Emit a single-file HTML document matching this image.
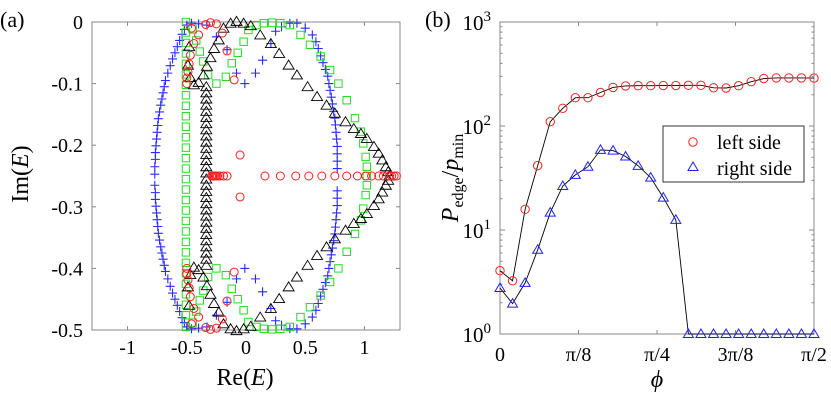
<!DOCTYPE html>
<html><head><meta charset="utf-8"><style>
body{margin:0;background:#fff}
svg{display:block}
svg text{font-family:"Liberation Serif","Times New Roman","DejaVu Serif",serif}
</style></head><body>
<svg id="fig" width="831" height="406" viewBox="0 0 831 406" font-family="Liberation Serif, serif"></svg>
<script>
// ---------- Panel (a) data (Re, Im) ----------
const redRe=[-0.29,-0.28,-0.27,-0.26,-0.25,-0.24,-0.22,-0.19,-0.16,0.16,0.29,0.42,0.53,0.64,0.75,0.85,0.94,1.01,1.06,1.12,1.16,1.21,1.23,1.25,1.27,-0.05,-0.05,
 -0.10,-0.16,-0.20,-0.25,-0.30,-0.34,-0.40,-0.44,-0.47,-0.48,-0.49,-0.50,-0.50,-0.46,
 -0.10,-0.16,-0.20,-0.25,-0.30,-0.34,-0.40,-0.44,-0.47,-0.48,-0.49,-0.50,-0.50,-0.46];
const redIm=[-0.25,-0.25,-0.25,-0.25,-0.25,-0.25,-0.25,-0.25,-0.25,-0.25,-0.25,-0.25,-0.25,-0.25,-0.25,-0.25,-0.25,-0.25,-0.25,-0.25,-0.25,-0.25,-0.25,-0.25,-0.25,-0.216,-0.284,
 -0.094,-0.047,-0.018,-0.003,-0.001,-0.004,-0.021,-0.035,-0.054,-0.068,-0.081,-0.091,-0.100,-0.010,
 -0.406,-0.453,-0.482,-0.497,-0.499,-0.496,-0.479,-0.465,-0.446,-0.432,-0.419,-0.409,-0.400,-0.490];
const triRe=[-0.13,-0.08,-0.02,0.04,0.12,0.21,0.28,0.36,0.43,0.52,0.60,0.68,0.75,0.84,0.91,0.97,1.02,1.08,1.12,1.15,1.18,1.20,1.21,
 -0.19,-0.23,-0.27,-0.30,-0.33,-0.36,-0.40,-0.44,-0.47,-0.49,-0.48,
 -0.13,-0.08,-0.02,0.04,0.12,0.21,0.28,0.36,0.43,0.52,0.60,0.68,0.75,0.84,0.91,0.97,1.02,1.08,1.12,1.15,1.18,1.20,
 -0.19,-0.23,-0.27,-0.30,-0.33,-0.36,-0.40,-0.44,-0.47,-0.49,-0.48,
 -0.335,-0.335,-0.335,-0.335,-0.335,-0.335,-0.335,-0.335,-0.335,-0.335,-0.335,-0.335,-0.335,-0.335,-0.335,-0.335,-0.335,-0.335,-0.335,-0.335,-0.335,-0.335,-0.335,-0.335,-0.335,-0.335,-0.335,-0.335,-0.335,-0.335];
const triIm=[-0.002,0.001,-0.002,-0.006,-0.021,-0.035,-0.051,-0.070,-0.086,-0.105,-0.121,-0.135,-0.148,-0.162,-0.173,-0.181,-0.189,-0.202,-0.213,-0.224,-0.235,-0.243,-0.250,
 -0.010,-0.029,-0.043,-0.058,-0.072,-0.086,-0.098,-0.102,-0.090,-0.070,-0.040,
 -0.498,-0.501,-0.498,-0.494,-0.479,-0.465,-0.449,-0.430,-0.414,-0.395,-0.379,-0.365,-0.352,-0.338,-0.327,-0.319,-0.311,-0.298,-0.287,-0.276,-0.265,-0.257,
 -0.490,-0.471,-0.457,-0.442,-0.428,-0.414,-0.402,-0.398,-0.410,-0.430,-0.460,
 -0.105,-0.115,-0.125,-0.135,-0.145,-0.155,-0.165,-0.175,-0.185,-0.195,-0.205,-0.215,-0.225,-0.235,-0.245,-0.255,-0.265,-0.275,-0.285,-0.295,-0.305,-0.315,-0.325,-0.335,-0.345,-0.355,-0.365,-0.375,-0.385,-0.395];
const sqRe=[0.09,0.15,0.22,0.29,0.37,0.46,0.54,0.63,0.71,0.78,0.85,0.92,0.97,0.99,1.01,1.02,1.02,
 0.02,-0.02,-0.07,-0.12,-0.17,-0.25,-0.32,-0.36,-0.39,-0.42,-0.45,
 0.09,0.15,0.22,0.29,0.37,0.46,0.54,0.63,0.71,0.78,0.85,0.92,0.97,0.99,1.01,1.02,
 0.02,-0.02,-0.07,-0.12,-0.17,-0.25,-0.32,-0.36,-0.39,-0.42,-0.45,
 -0.507,-0.507,-0.507,-0.507,-0.507,-0.507,-0.507,-0.507,-0.507,-0.507,-0.507,-0.507,-0.507,-0.507,-0.507,-0.507,-0.507,-0.507,-0.507,-0.507,-0.507,-0.507,-0.507,-0.507,-0.507,-0.507,-0.507,-0.507,-0.507,-0.507];
const sqIm=[-0.005,-0.002,-0.001,-0.002,-0.005,-0.021,-0.037,-0.056,-0.078,-0.100,-0.127,-0.156,-0.178,-0.197,-0.219,-0.235,-0.250,
 -0.013,-0.032,-0.050,-0.067,-0.089,-0.100,-0.086,-0.064,-0.048,-0.030,-0.012,
 -0.495,-0.498,-0.499,-0.498,-0.495,-0.479,-0.463,-0.444,-0.422,-0.400,-0.373,-0.344,-0.322,-0.303,-0.281,-0.265,
 -0.487,-0.468,-0.450,-0.433,-0.411,-0.400,-0.414,-0.436,-0.452,-0.470,-0.488,
 0.000,-0.017,-0.034,-0.051,-0.068,-0.085,-0.102,-0.119,-0.136,-0.153,-0.170,-0.187,-0.204,-0.221,-0.238,-0.255,-0.272,-0.289,-0.306,-0.323,-0.340,-0.357,-0.374,-0.391,-0.408,-0.425,-0.442,-0.459,-0.476,-0.495];
const plusRe=[-0.50,-0.52,-0.54,-0.56,-0.58,-0.60,-0.62,-0.64,-0.66,-0.68,-0.69,-0.70,-0.71,-0.72,-0.73,-0.74,-0.745,-0.75,-0.755,-0.76,-0.765,-0.765,-0.77,-0.77,
 0.37,0.43,0.50,0.56,0.59,0.61,0.63,0.65,0.67,0.69,0.70,0.71,0.72,0.73,0.74,0.75,0.755,0.76,0.765,0.77,0.77,0.77,0.77,
 0.30,0.25,0.21,0.14,0.08,-0.01,-0.08,-0.16,-0.25,-0.33,-0.40,-0.46,
 -0.50,-0.52,-0.54,-0.56,-0.58,-0.60,-0.62,-0.64,-0.66,-0.68,-0.69,-0.70,-0.71,-0.72,-0.73,-0.74,-0.745,-0.75,-0.755,-0.76,-0.765,-0.765,-0.77,
 0.37,0.43,0.50,0.56,0.59,0.61,0.63,0.65,0.67,0.69,0.70,0.71,0.72,0.73,0.74,0.75,0.755,0.76,0.765,0.77,0.77,0.77,
 0.30,0.25,0.21,0.14,0.08,-0.01,-0.08,-0.16,-0.25,-0.33,-0.40,-0.46];
const plusIm=[-0.005,-0.012,-0.020,-0.030,-0.040,-0.050,-0.060,-0.071,-0.083,-0.095,-0.105,-0.115,-0.125,-0.135,-0.146,-0.157,-0.168,-0.179,-0.190,-0.201,-0.212,-0.223,-0.235,-0.247,
 -0.002,-0.002,-0.010,-0.021,-0.032,-0.043,-0.055,-0.066,-0.077,-0.088,-0.100,-0.111,-0.122,-0.133,-0.145,-0.156,-0.167,-0.179,-0.190,-0.202,-0.214,-0.226,-0.238,
 -0.008,-0.015,-0.035,-0.062,-0.083,-0.100,-0.083,-0.045,-0.024,-0.005,-0.003,-0.002,
 -0.495,-0.488,-0.480,-0.470,-0.460,-0.450,-0.440,-0.429,-0.417,-0.405,-0.395,-0.385,-0.375,-0.365,-0.354,-0.343,-0.332,-0.321,-0.310,-0.299,-0.288,-0.277,-0.265,
 -0.498,-0.498,-0.490,-0.479,-0.468,-0.457,-0.445,-0.434,-0.423,-0.412,-0.400,-0.389,-0.378,-0.367,-0.355,-0.344,-0.333,-0.321,-0.310,-0.298,-0.286,-0.274,
 -0.492,-0.485,-0.465,-0.438,-0.417,-0.400,-0.417,-0.455,-0.476,-0.495,-0.497,-0.498];
const aXTicks=[-1,-0.5,0,0.5,1];
const aXLabels=["-1","-0.5","0","0.5","1"];
const aYTicks=[0,-0.1,-0.2,-0.3,-0.4,-0.5];
const aYLabels=["0","-0.1","-0.2","-0.3","-0.4","-0.5"];
// ---------- Panel (b) data ----------
const phiIdx=[0,1,2,3,4,5,6,7,8,9,10,11,12,13,14,15,16,17,18,19,20,21,22,23,24,25];
const leftVals=[4.06,3.25,15.8,41.6,110,148,187,187,210,235,243,244,244,245,245,246,246,233,232,244,267,286,290,290,290,289];
const rightVals=[2.77,1.96,3.1,6.45,14.7,26.5,33.9,40.6,58.9,58,50.9,41.4,31.9,20.5,12.5,1,1,1,1,1,1,1,1,1,1,1];
const bXTicks=[0,0.125,0.25,0.375,0.5]; // in units of pi
const bXLabels=["0","π/8","π/4","3π/8","π/2"];
const bYDecades=[0,1,2,3];

const NS="http://www.w3.org/2000/svg";
const FONT='"Liberation Serif", serif';
const svg=document.getElementById('fig');
function mk(tag,attrs,parent){const e=document.createElementNS(NS,tag);for(const k in attrs)e.setAttribute(k,attrs[k]);if(tag==='text')e.setAttribute('font-family',FONT);(parent||svg).appendChild(e);return e;}
function txt(s,x,y,size,anchor,parent){const t=mk('text',{x:x,y:y,'font-size':size,'text-anchor':anchor||'middle',fill:'#000'},parent);t.textContent=s;return t;}

// Panel a axes
const aL=92,aR=400,aT=22,aB=330;
const ax=v=>aL+(v+1.3)/2.6*(aR-aL);
const ay=v=>aT+(-v)/0.5*(aB-aT);
const ga=mk('g',{});


const frA=mk('rect',{x:aL,y:aT,width:aR-aL,height:aB-aT,fill:'none',stroke:'#888','stroke-width':1},ga);


aXTicks.forEach((v,i)=>{const x=ax(v);
 mk('line',{x1:x,x2:x,y1:aB,y2:aB-4,stroke:'#888'},ga);mk('line',{x1:x,x2:x,y1:aT,y2:aT+4,stroke:'#888'},ga);
 const t=txt(aXLabels[i],x,354,20,'middle',ga);
 
 });
aYTicks.forEach((v,i)=>{const y=ay(v);
 mk('line',{x1:aL,x2:aL+4,y1:y,y2:y,stroke:'#888'},ga);mk('line',{x1:aR,x2:aR-4,y1:y,y2:y,stroke:'#888'},ga);
 const t=txt(aYLabels[i],83,y+7,20,'end',ga);
 
 });
// series
const gPlus=mk('g',{stroke:'#2a2aff','stroke-width':1.1},ga);


plusRe.forEach((r,i)=>{const x=ax(r),y=ay(plusIm[i]);mk('path',{d:`M${x-4.5},${y}H${x+4.5}M${x},${y-4.5}V${y+4.5}`},gPlus);});
const gSq=mk('g',{stroke:'#22dd22','stroke-width':1,fill:'none'},ga);


sqRe.forEach((r,i)=>{mk('rect',{x:ax(r)-3.7,y:ay(sqIm[i])-3.7,width:7.4,height:7.4},gSq);});
const gTri=mk('g',{stroke:'#000','stroke-width':0.9,fill:'none'},ga);


triRe.forEach((r,i)=>{const x=ax(r),y=ay(triIm[i]);mk('path',{d:`M${x},${y-5}L${x+5.5},${y+4}L${x-5.5},${y+4}Z`},gTri);});
const gCir=mk('g',{stroke:'#ff2020','stroke-width':1,fill:'none'},ga);


redRe.forEach((r,i)=>{mk('circle',{cx:ax(r),cy:ay(redIm[i]),r:4},gCir);});
let t;
t=txt('(a)',0,27,22,'start',ga);
t=mk('text',{x:245,y:385,'font-size':24,'text-anchor':'middle'},ga);t.innerHTML='Re(<tspan font-style="italic">E</tspan>)';

t=mk('text',{x:0,y:0,'font-size':24,'text-anchor':'middle',transform:'translate(28,174) rotate(-90)'},ga);t.innerHTML='Im(<tspan font-style="italic">E</tspan>)';


// Panel b
const bL=500,bR=814,bT=22,bB=334;
const bx=p=>bL+p/0.5*(bR-bL);
const by=v=>bB-Math.log10(v)/3*(bB-bT);
const gb=mk('g',{});


const frB=mk('rect',{x:bL,y:bT,width:bR-bL,height:bB-bT,fill:'none',stroke:'#888'},gb);


bXTicks.forEach((v,i)=>{const x=bx(v);
 mk('line',{x1:x,x2:x,y1:bB,y2:bB-4,stroke:'#888'},gb);mk('line',{x1:x,x2:x,y1:bT,y2:bT+4,stroke:'#888'},gb);
 const t=txt(bXLabels[i],x,361,20,'middle',gb);
 
 });
bYDecades.forEach(d=>{const y=by(Math.pow(10,d));
 mk('line',{x1:bL,x2:bL+5,y1:y,y2:y,stroke:'#888'},gb);mk('line',{x1:bR,x2:bR-5,y1:y,y2:y,stroke:'#888'},gb);
 const t=mk('text',{x:491,y:y+8,'font-size':21,'text-anchor':'end'},gb);
 t.innerHTML='10<tspan dy="-9" font-size="15">'+d+'</tspan>';
 
 
 if(d<3)for(let m=2;m<10;m++){const yy=by(m*Math.pow(10,d));mk('line',{x1:bL,x2:bL+2.5,y1:yy,y2:yy,stroke:'#888'},gb);mk('line',{x1:bR,x2:bR-2.5,y1:yy,y2:yy,stroke:'#888'},gb);}});
const phiX=i=>bx(i*0.5/25);
const lineL=mk('polyline',{points:phiIdx.map(i=>phiX(i)+','+by(leftVals[i])).join(' '),fill:'none',stroke:'#000','stroke-width':0.9},gb);

const lineR=mk('polyline',{points:phiIdx.map(i=>phiX(i)+','+by(rightVals[i])).join(' '),fill:'none',stroke:'#000','stroke-width':0.9},gb);

phiIdx.forEach(i=>{const c=mk('circle',{cx:phiX(i),cy:by(leftVals[i]),r:4.2,fill:'none',stroke:'#ff2020','stroke-width':1},gb);
 });
phiIdx.forEach(i=>{const x=phiX(i),y=by(rightVals[i]);const p=mk('path',{d:`M${x},${y-5}L${x+5},${y+3.5}L${x-5},${y+3.5}Z`,fill:'none',stroke:'#2020ff','stroke-width':1},gb);
 });
// legend
const lg=mk('g',{},gb);

mk('rect',{x:663,y:126,width:141,height:56,fill:'#fff',stroke:'#333'},lg);
mk('circle',{cx:693,cy:142,r:4.2,fill:'none',stroke:'#ff2020'},lg);
t=txt('left side',717,149,20,'start',lg);
mk('path',{d:'M693,162L698,170.5L688,170.5Z',fill:'none',stroke:'#2020ff'},lg);
t=txt('right side',717,175,20,'start',lg);
t=txt('(b)',425,27,22,'start',gb);
t=mk('text',{x:657,y:387,'font-size':24,'text-anchor':'middle','font-style':'italic'},gb);t.textContent='ϕ';

t=mk('text',{x:0,y:0,'font-size':24,'text-anchor':'middle',transform:'translate(458,178) rotate(-90)'},gb);
t.innerHTML='<tspan font-style="italic">P</tspan><tspan font-size="16" dy="5">edge</tspan><tspan dy="-5">/</tspan><tspan font-style="italic">p</tspan><tspan font-size="16" dy="5">min</tspan>';

</script>
</body></html>
